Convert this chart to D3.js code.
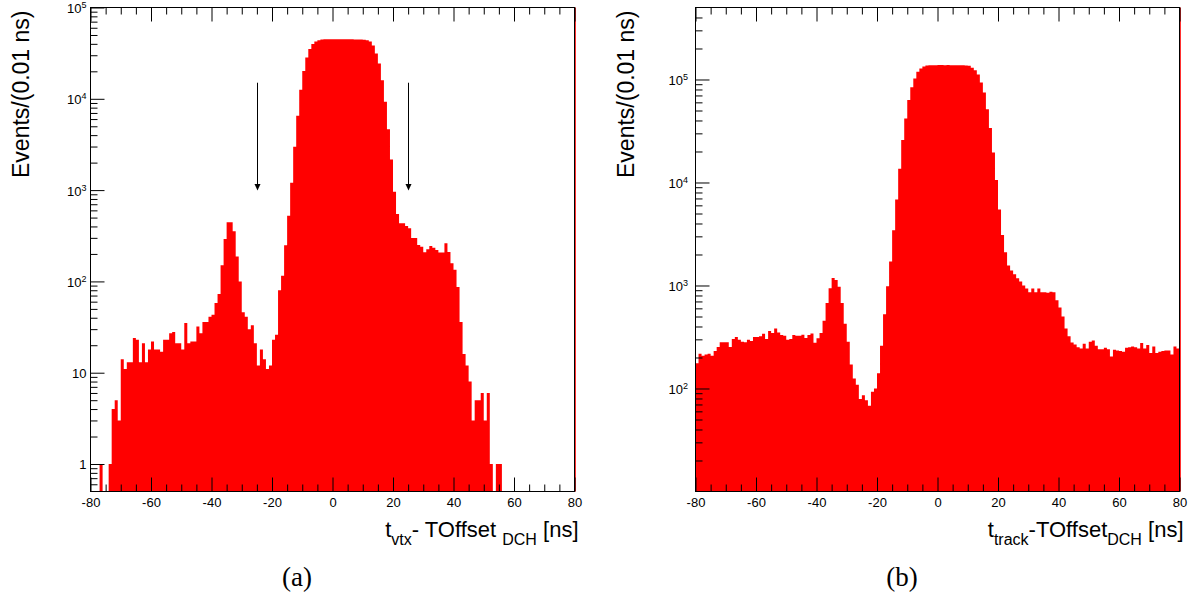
<!DOCTYPE html>
<html>
<head>
<meta charset="utf-8">
<script src="https://cdn.jsdelivr.net/npm/d3@7"></script>
<style>
  html, body { margin: 0; padding: 0; background: #ffffff; }
  svg { display: block; font-family: "Liberation Sans", Arial, Helvetica, sans-serif; }
</style>
</head>
<body>
<svg id="chart" width="1197" height="597"></svg>
<script>
// ---------------- DATA ----------------
const xMin = -80, xMax = 80, binWidth = 1;

// (a) t_vtx - TOffset_DCH : counts per 1 ns bin, bins starting at -80 ... 79
const countsA = [
  // -80 .. -71
  0, 0, 0, 1, 0, 0, 1, 4, 5, 3,
  // -70 .. -61
  14, 11, 13, 13, 24, 23, 13, 21, 13, 18,
  // -60 .. -51
  22, 18, 18, 17, 23, 23, 27, 28, 21, 21,
  // -50 .. -41
  18, 35, 21, 22, 22, 32, 27, 36, 36, 41,
  // -40 .. -31
  43, 58, 73, 150, 292, 444, 444, 354, 187, 100,
  // -30 .. -21
  46, 41, 30, 33, 21, 12, 18, 14, 11, 12,
  // -20 .. -11
  23, 26, 80, 115, 249, 525, 1205, 2985, 6520, 12600,
  // -10 .. -1
  20200, 28400, 35200, 39800, 42500, 43900, 44500, 44800, 44900, 45000,
  // 0 .. 9
  45000, 45000, 44900, 45000, 44900, 44900, 44800, 44700, 44600, 44500,
  // 10 .. 19
  44400, 43900, 42500, 38400, 31400, 24400, 16000, 9270, 4630, 2170,
  // 20 .. 29
  960, 547, 433, 433, 405, 382, 299, 299, 251, 240,
  // 30 .. 39
  209, 225, 245, 233, 221, 207, 207, 262, 210, 158,
  // 40 .. 49
  134, 87, 36, 16, 12, 8, 3, 5, 5, 6,
  // 50 .. 59
  3, 6, 1, 0, 1, 1, 0, 0, 0, 0,
  // 60 .. 69
  0, 0, 0, 0, 0, 0, 0, 0, 0, 0,
  // 70 .. 79
  0, 0, 0, 0, 0, 0, 0, 0, 0, 0
];

// (b) t_track - TOffset_DCH : counts per 1 ns bin, bins starting at -80 ... 79
const countsB = [
  // -80 .. -71
  176, 218, 208, 214, 218, 208, 231, 253, 281, 281,
  // -70 .. -61
  281, 253, 303, 317, 298, 285, 281, 298, 289, 317,
  // -60 .. -51
  317, 321, 340, 303, 361, 345, 383, 350, 330, 326,
  // -50 .. -41
  298, 303, 330, 326, 326, 333, 309, 330, 342, 278,
  // -40 .. -31
  307, 345, 455, 677, 940, 1180, 1130, 975, 677, 426,
  // -30 .. -21
  285, 171, 125, 109, 79, 86, 77, 68, 93, 100,
  // -20 .. -11
  141, 260, 525, 982, 1710, 3440, 6850, 13600, 25900, 41700,
  // -10 .. -1
  63100, 84100, 102000, 118600, 128000, 134000, 136500, 137200, 137600, 137800,
  // 0 .. 9
  137900, 137900, 137800, 137900, 137800, 137700, 137600, 137500, 137300, 137000,
  // 10 .. 19
  136000, 130000, 123000, 112000, 93500, 74700, 51400, 33800, 19500, 10550,
  // 20 .. 29
  5470, 3100, 2100, 1560, 1400, 1285, 1175, 1091, 998, 933,
  // 30 .. 39
  859, 933, 859, 933, 859, 859, 852, 870, 859, 718,
  // 40 .. 49
  610, 501, 383, 321, 280, 268, 252, 245, 272, 245,
  // 50 .. 59
  285, 293, 260, 241, 241, 249, 241, 205, 238, 234,
  // 60 .. 69
  231, 227, 249, 252, 256, 252, 245, 276, 245, 264,
  // 70 .. 79
  221, 256, 221, 227, 231, 234, 234, 214, 256, 245
];

// tick values
const xMajorTicks = [-80, -60, -40, -20, 0, 20, 40, 60, 80];
const xMinorTicks = [-75, -70, -65, -55, -50, -45, -35, -30, -25, -15, -10, -5,
                     5, 10, 15, 25, 30, 35, 45, 50, 55, 65, 70, 75];
const yMajorTicksA = [1, 10, 100, 1000, 10000, 100000];
const yMajorTicksB = [100, 1000, 10000, 100000];
const yDomainA = [0.5, 100000];
const yDomainB = [10, 500000];

// cut positions marked by arrows in panel (a) (x in ns, arrow from / to in events)
const cutPositions = [-25, 25];
const arrowFrom = 15000, arrowTo = 1000;

const yTitle = "Events/(0.01 ns)";
const captions = ["(a)", "(b)"];

// ---------------- DRAWING ----------------
const svg = d3.select("#chart");
const red = "#ff0000";

function minorLogTicks(domain, majors) {
  const out = [];
  const lo = Math.floor(Math.log10(domain[0])), hi = Math.ceil(Math.log10(domain[1]));
  for (let e = lo; e <= hi; e++) {
    for (let k = 2; k <= 9; k++) {
      const v = k * Math.pow(10, e);
      if (v > domain[0] * 1.0001 && v < domain[1] * 0.9999 && !majors.includes(v)) out.push(v);
    }
  }
  // sub-1 ticks 0.6..0.9
  return out;
}

function drawPanel(cfg) {
  const g = svg.append("g");
  const x = d3.scaleLinear().domain([xMin, xMax]).range([cfg.left, cfg.right]);
  const y = d3.scaleLog().domain(cfg.yDomain).range([cfg.bottom, cfg.top]).clamp(true);

  const pts = cfg.counts.map((v, i) => ({ t: xMin + i * binWidth, v: v }));
  pts.push({ t: xMax, v: cfg.counts[cfg.counts.length - 1] });

  const area = d3.area()
    .x(d => x(d.t))
    .y0(cfg.bottom)
    .y1(d => d.v > 0 ? y(d.v) : cfg.bottom)
    .curve(d3.curveStepAfter);

  g.append("path").datum(pts).attr("d", area).attr("fill", red).attr("stroke", "none");

  // red line at the right edge
  g.append("line")
    .attr("x1", cfg.right + 1).attr("x2", cfg.right + 1)
    .attr("y1", cfg.top).attr("y2", cfg.bottom)
    .attr("stroke", red).attr("stroke-width", 1).attr("opacity", 0.8);

  // frame
  g.append("rect")
    .attr("x", cfg.left).attr("y", cfg.top)
    .attr("width", cfg.right - cfg.left).attr("height", cfg.bottom - cfg.top)
    .attr("fill", "none").attr("stroke", "#000").attr("stroke-width", 1);

  const styleAxis = sel => {
    sel.select(".domain").remove();
    sel.selectAll(".tick line").attr("stroke", "#000").attr("stroke-width", 1);
    sel.attr("font-family", null).attr("font-size", null);
  };

  // bottom axis (major with labels)
  g.append("g").attr("transform", `translate(0,${cfg.bottom})`)
    .call(d3.axisBottom(x).tickValues(xMajorTicks).tickSize(-14).tickPadding(6).tickFormat(d => String(d)))
    .call(styleAxis)
    .call(s => s.selectAll("text").attr("font-size", 13).attr("fill", "#000"));
  g.append("g").attr("transform", `translate(0,${cfg.bottom})`)
    .call(d3.axisBottom(x).tickValues(xMinorTicks).tickSize(-7).tickFormat(""))
    .call(styleAxis);
  // top axis
  g.append("g").attr("transform", `translate(0,${cfg.top})`)
    .call(d3.axisTop(x).tickValues(xMajorTicks).tickSize(-14).tickFormat(""))
    .call(styleAxis);
  g.append("g").attr("transform", `translate(0,${cfg.top})`)
    .call(d3.axisTop(x).tickValues(xMinorTicks).tickSize(-7).tickFormat(""))
    .call(styleAxis);

  // left axis
  const yMajorVisible = cfg.yMajor.filter(v => v >= cfg.yDomain[0] && v <= cfg.yDomain[1]);
  const yAx = g.append("g").attr("transform", `translate(${cfg.left},0)`)
    .call(d3.axisLeft(y).tickValues(yMajorVisible).tickSize(-14).tickPadding(cfg.labelPad).tickFormat(d => String(d)))
    .call(styleAxis);
  yAx.selectAll("text").each(function (d) {
    const t = d3.select(this);
    t.text(null).attr("font-size", 13).attr("fill", "#000").attr("dy", "0.38em");
    const e = Math.round(Math.log10(d));
    if (e <= 1) {
      t.text(String(d));
    } else {
      t.append("tspan").text("10");
      t.append("tspan").attr("font-size", 9).attr("dy", "-0.55em").text(String(e));
    }
  });
  g.append("g").attr("transform", `translate(${cfg.left},0)`)
    .call(d3.axisLeft(y).tickValues(minorLogTicks(cfg.yDomain, cfg.yMajor)).tickSize(-7).tickFormat(""))
    .call(styleAxis);

  // y title
  g.append("text")
    .attr("transform", `translate(${cfg.yTitleX},${cfg.top + 3}) rotate(-90)`)
    .attr("text-anchor", "end")
    .attr("font-size", 23)
    .attr("fill", "#000")
    .text(yTitle);

  // x title
  const xt = g.append("text")
    .attr("x", cfg.right + 4).attr("y", 537)
    .attr("text-anchor", "end")
    .attr("font-size", 22)
    .attr("fill", "#000");
  cfg.xTitle.forEach(part => {
    const ts = xt.append("tspan").text(part.text);
    if (part.sub) ts.attr("font-size", 16).attr("dy", 7.5);
    else if (part.after) ts.attr("dy", -7.5);
  });

  // caption
  g.append("text")
    .attr("x", cfg.captionX).attr("y", 586)
    .attr("text-anchor", "middle")
    .attr("font-family", "'Liberation Serif', 'DejaVu Serif', serif")
    .attr("font-size", 27)
    .attr("fill", "#000")
    .text(cfg.caption);

  // arrows
  if (cfg.arrows) {
    cfg.arrows.forEach(c => {
      const ax = Math.round(x(c)) + 0.5;
      const yTop = y(arrowFrom), yTip = y(arrowTo);
      g.append("line")
        .attr("x1", ax).attr("x2", ax)
        .attr("y1", yTop).attr("y2", yTip - 3)
        .attr("stroke", "#000").attr("stroke-width", 1);
      g.append("path")
        .attr("d", `M${ax - 3},${yTip - 6} L${ax + 3},${yTip - 6} L${ax},${yTip + 0.5} Z`)
        .attr("fill", "#000");
    });
  }
}

drawPanel({
  left: 90.5, right: 574.5, top: 7.5, bottom: 491.5,
  counts: countsA, yDomain: yDomainA, yMajor: yMajorTicksA,
  labelPad: 4, yTitleX: 28.5, captionX: 297, caption: captions[0],
  arrows: cutPositions,
  xTitle: [
    { text: "t" }, { text: "vtx", sub: true },
    { text: "- TOffset ", after: true }, { text: "DCH", sub: true },
    { text: " [ns]", after: true }
  ]
});

drawPanel({
  left: 695.5, right: 1179.5, top: 7.5, bottom: 491.5,
  counts: countsB, yDomain: yDomainB, yMajor: yMajorTicksB,
  labelPad: 7.5, yTitleX: 633.5, captionX: 902, caption: captions[1],
  arrows: null,
  xTitle: [
    { text: "t" }, { text: "track", sub: true },
    { text: "-TOffset", after: true }, { text: "DCH", sub: true },
    { text: " [ns]", after: true }
  ]
});
</script>
</body>
</html>
